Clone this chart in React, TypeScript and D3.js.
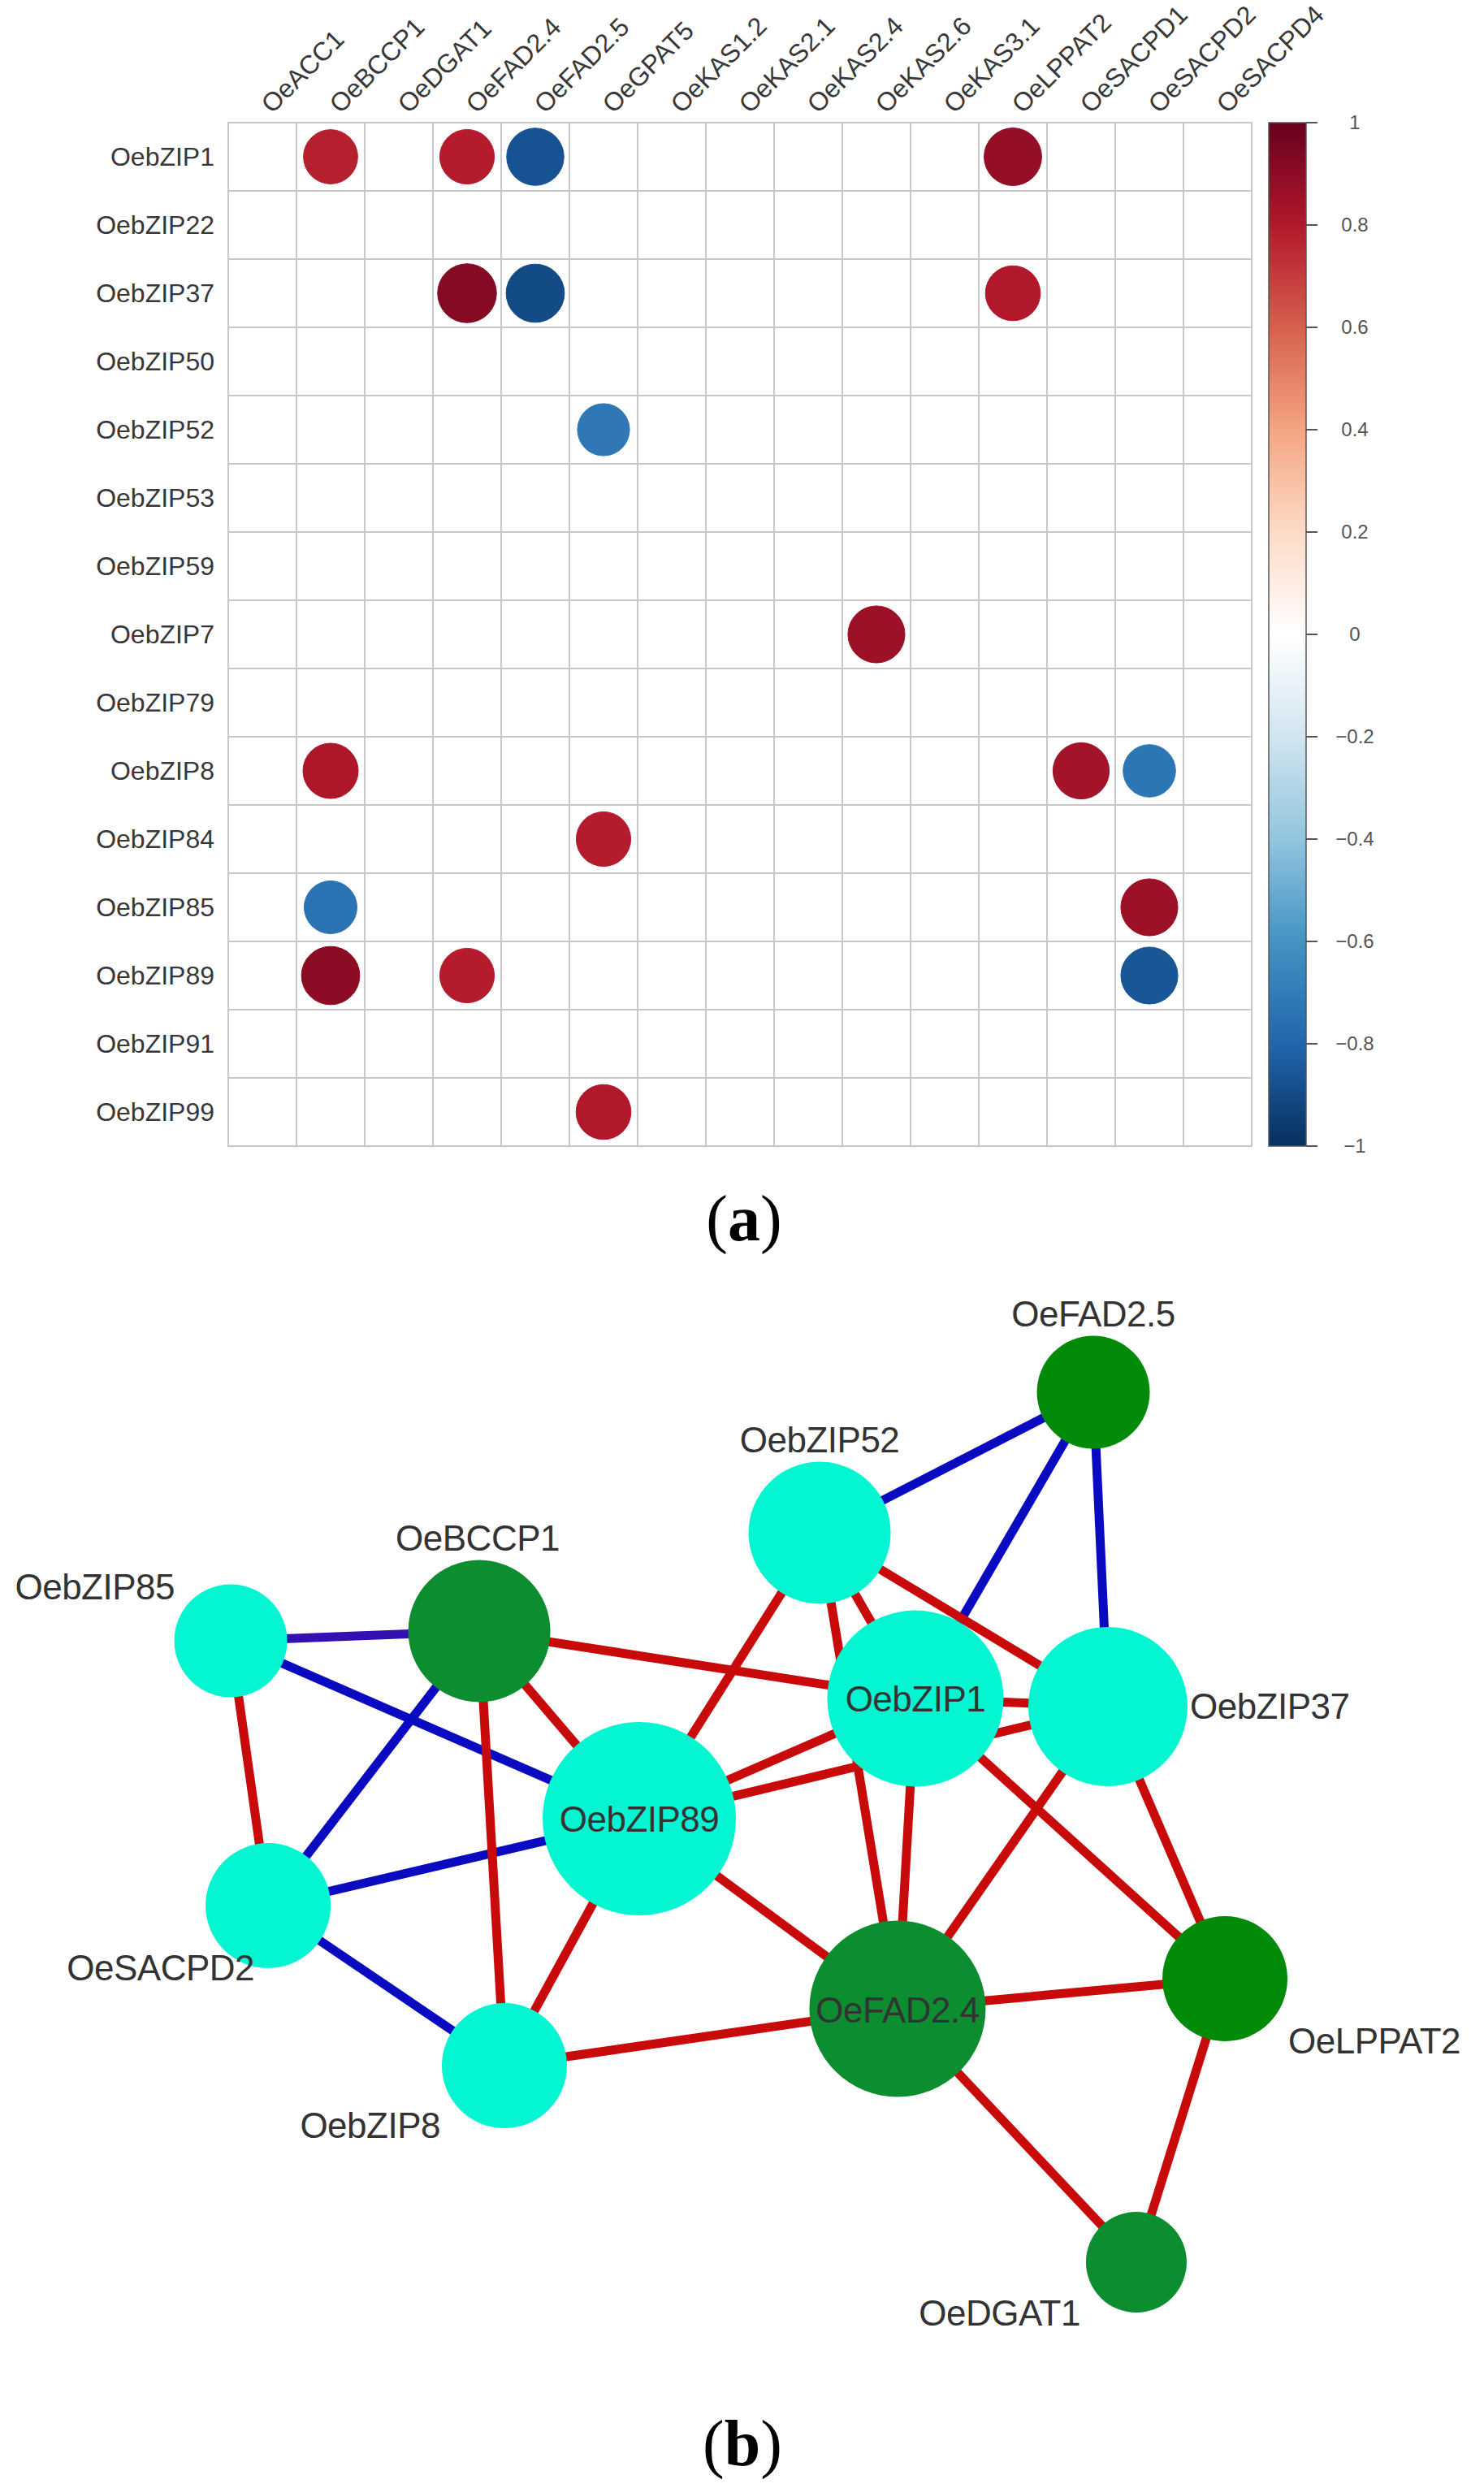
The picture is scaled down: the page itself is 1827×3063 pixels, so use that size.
import React from "react";
import * as d3 from "d3";

// ---------- Panel (a): correlation matrix ----------
const genes = [
  "OeACC1", "OeBCCP1", "OeDGAT1", "OeFAD2.4", "OeFAD2.5", "OeGPAT5", "OeKAS1.2",
  "OeKAS2.1", "OeKAS2.4", "OeKAS2.6", "OeKAS3.1", "OeLPPAT2", "OeSACPD1", "OeSACPD2", "OeSACPD4",
];
const bzips = [
  "OebZIP1", "OebZIP22", "OebZIP37", "OebZIP50", "OebZIP52", "OebZIP53", "OebZIP59",
  "OebZIP7", "OebZIP79", "OebZIP8", "OebZIP84", "OebZIP85", "OebZIP89", "OebZIP91", "OebZIP99",
];
// significant correlations [bZIP, gene, r]
const correlations: [string, string, number][] = [
  ["OebZIP1", "OeBCCP1", 0.78],
  ["OebZIP1", "OeFAD2.4", 0.79],
  ["OebZIP1", "OeFAD2.5", -0.87],
  ["OebZIP1", "OeLPPAT2", 0.88],
  ["OebZIP37", "OeFAD2.4", 0.92],
  ["OebZIP37", "OeFAD2.5", -0.9],
  ["OebZIP37", "OeLPPAT2", 0.8],
  ["OebZIP52", "OeGPAT5", -0.72],
  ["OebZIP7", "OeKAS2.6", 0.86],
  ["OebZIP8", "OeBCCP1", 0.81],
  ["OebZIP8", "OeSACPD1", 0.84],
  ["OebZIP8", "OeSACPD2", -0.73],
  ["OebZIP84", "OeGPAT5", 0.79],
  ["OebZIP85", "OeBCCP1", -0.74],
  ["OebZIP85", "OeSACPD2", 0.86],
  ["OebZIP89", "OeBCCP1", 0.9],
  ["OebZIP89", "OeFAD2.4", 0.79],
  ["OebZIP89", "OeSACPD2", -0.86],
  ["OebZIP99", "OeGPAT5", 0.8],
];
const colorbarTicks = [1, 0.8, 0.6, 0.4, 0.2, 0, -0.2, -0.4, -0.6, -0.8, -1];
const paletteDomain = [-1, -0.8, -0.6, -0.4, -0.2, 0, 0.2, 0.4, 0.6, 0.8, 1];
const paletteColors = [
  "#053061", "#2166AC", "#4393C3", "#92C5DE", "#D1E5F0", "#FFFFFF",
  "#FDDBC7", "#F4A582", "#D6604D", "#B2182B", "#67001F",
];

// ---------- Panel (b): network ----------
// layout coordinates (0-100 units)
const netNodes: { id: string; kind: string; lx: number; ly: number }[] = [
  { id: "OeFAD2.5", kind: "geneLight", lx: 81.86, ly: 1.27 },
  { id: "OebZIP52", kind: "tf", lx: 57.79, ly: 17.0 },
  { id: "OeBCCP1", kind: "gene", lx: 27.86, ly: 28.0 },
  { id: "OebZIP85", kind: "tf", lx: 6.0, ly: 29.09 },
  { id: "OebZIP1", kind: "tf", lx: 66.21, ly: 35.55 },
  { id: "OebZIP37", kind: "tf", lx: 83.14, ly: 36.45 },
  { id: "OebZIP89", kind: "tf", lx: 41.93, ly: 49.0 },
  { id: "OeSACPD2", kind: "tf", lx: 9.29, ly: 58.73 },
  { id: "OebZIP8", kind: "tf", lx: 30.07, ly: 76.64 },
  { id: "OeFAD2.4", kind: "gene", lx: 64.64, ly: 70.27 },
  { id: "OeLPPAT2", kind: "geneLight", lx: 93.43, ly: 66.91 },
  { id: "OeDGAT1", kind: "gene", lx: 85.64, ly: 98.64 },
];
// [source, target, sign]
const netEdges: [string, string, number][] = [
  ["OeFAD2.5", "OebZIP52", -1],
  ["OeFAD2.5", "OebZIP1", -1],
  ["OeFAD2.5", "OebZIP37", -1],
  ["OebZIP85", "OeBCCP1", -1],
  ["OebZIP85", "OebZIP89", -1],
  ["OeBCCP1", "OeSACPD2", -1],
  ["OeSACPD2", "OebZIP89", -1],
  ["OeSACPD2", "OebZIP8", -1],
  ["OebZIP85", "OeSACPD2", 1],
  ["OeBCCP1", "OebZIP89", 1],
  ["OeBCCP1", "OebZIP8", 1],
  ["OeBCCP1", "OebZIP1", 1],
  ["OebZIP52", "OebZIP89", 1],
  ["OebZIP52", "OebZIP1", 1],
  ["OebZIP52", "OeFAD2.4", 1],
  ["OebZIP52", "OebZIP37", 1],
  ["OebZIP89", "OebZIP1", 1],
  ["OebZIP89", "OebZIP37", 1],
  ["OebZIP89", "OeFAD2.4", 1],
  ["OebZIP89", "OebZIP8", 1],
  ["OebZIP1", "OebZIP37", 1],
  ["OebZIP1", "OeFAD2.4", 1],
  ["OebZIP1", "OeLPPAT2", 1],
  ["OebZIP37", "OeFAD2.4", 1],
  ["OebZIP37", "OeLPPAT2", 1],
  ["OeFAD2.4", "OeLPPAT2", 1],
  ["OeFAD2.4", "OeDGAT1", 1],
  ["OeFAD2.4", "OebZIP8", 1],
  ["OeLPPAT2", "OeDGAT1", 1],
];

// ---------- styles ----------
const FONT = "'Liberation Sans', Arial, Helvetica, sans-serif";
const SERIF = "'Liberation Serif', 'Times New Roman', serif";
const nodeFill: Record<string, string> = {
  tf: "#03F5D2",
  gene: "#0C8E30",
  geneLight: "#018B08",
};
const edgeColor = (sign: number, a: string, b: string) =>
  sign > 0 ? "#C80A0A" : a === "OebZIP85" && b === "OeBCCP1" ? "#3310B0" : "#0A0AC0";
const labelPlace: Record<string, [string, number, number]> = {
  "OeFAD2.5": ["middle", 0, -81],
  OebZIP52: ["middle", 0, -99],
  OeBCCP1: ["middle", -2, -99],
  OebZIP85: ["end", -69, -51],
  OebZIP1: ["middle", 0, 16],
  OebZIP37: ["start", 101, 15],
  OebZIP89: ["middle", 0, 16],
  OeSACPD2: ["end", -17, 92],
  OebZIP8: ["end", -79, 89],
  "OeFAD2.4": ["middle", 0, 17],
  OeLPPAT2: ["start", 78, 92],
  OeDGAT1: ["end", -69, 78],
};

export default function App() {
  const W = 1827;
  const H = 3063;

  // matrix scales
  const x = d3.scaleBand<string>().domain(genes).range([281, 1541]);
  const y = d3.scaleBand<string>().domain(bzips).range([151, 1411]);
  const cell = x.bandwidth();
  const rScale = d3.scaleSqrt().domain([0, 1]).range([0, 0.45 * cell]);
  const color = d3
    .scaleLinear<string>()
    .domain(paletteDomain)
    .range(paletteColors)
    .interpolate(d3.interpolateRgb);

  // colorbar
  const cbX = 1562;
  const cbW = 46;
  const cbY = d3.scaleLinear().domain([-1, 1]).range([1411, 151]);
  const fmt = d3.format("");
  const gradStops = paletteDomain
    .map((v, i) => ({ offset: (1 - v) / 2, c: paletteColors[i] }))
    .sort((a, b) => a.offset - b.offset);

  // network scales
  const nx = d3.scaleLinear().domain([0, 100]).range([200, 1600]);
  const ny = d3.scaleLinear().domain([0, 100]).range([1700, 2800]);
  const degree = new Map<string, number>();
  netEdges.forEach(([a, b]) => {
    degree.set(a, (degree.get(a) || 0) + 1);
    degree.set(b, (degree.get(b) || 0) + 1);
  });
  const nodeR = d3.scaleLinear().domain([2, 4, 8]).range([62, 77, 119]);
  const pos = new Map(netNodes.map((n) => [n.id, { x: nx(n.lx), y: ny(n.ly) }]));

  return (
    <svg
      width={W}
      height={H}
      style={{ position: "absolute", left: 0, top: 0, background: "#fff" }}
      fontFamily={FONT}
    >
      <defs>
        <linearGradient id="cbGrad" x1="0" y1="0" x2="0" y2="1">
          {gradStops.map((s, i) => (
            <stop key={i} offset={s.offset} stopColor={s.c} />
          ))}
        </linearGradient>
      </defs>
      <rect x={0} y={0} width={W} height={H} fill="#fff" />

      {/* grid */}
      <g>
        {bzips.map((r) =>
          genes.map((c) => (
            <rect
              key={r + c}
              x={x(c)}
              y={y(r)}
              width={cell}
              height={cell}
              fill="#fff"
              stroke="#c8c8c8"
              strokeWidth={2}
            />
          ))
        )}
      </g>
      {/* circles */}
      <g>
        {correlations.map(([r, c, v]) => (
          <circle
            key={r + c}
            cx={(x(c) as number) + cell / 2}
            cy={(y(r) as number) + cell / 2}
            r={rScale(Math.abs(v))}
            fill={color(v)}
            stroke={color(v)}
            strokeWidth={1}
          />
        ))}
      </g>
      {/* row labels */}
      <g fontSize={32} fill="#383838" textAnchor="end">
        {bzips.map((r) => (
          <text key={r} x={264} y={(y(r) as number) + cell / 2 + 11}>
            {r}
          </text>
        ))}
      </g>
      {/* column labels */}
      <g fontSize={32} fill="#383838">
        {genes.map((c) => {
          const cx = (x(c) as number) + cell / 2 + 12;
          const cy = 151 - 10;
          return (
            <text key={c} x={cx} y={cy} transform={`rotate(-45 ${cx} ${cy})`}>
              {c}
            </text>
          );
        })}
      </g>
      {/* colorbar */}
      <rect x={cbX} y={151} width={cbW} height={1260} fill="url(#cbGrad)" stroke="#555" strokeWidth={1.5} />
      <g>
        {colorbarTicks.map((t) => (
          <g key={t}>
            <line x1={cbX + cbW} x2={cbX + cbW + 14} y1={cbY(t)} y2={cbY(t)} stroke="#555" strokeWidth={2} />
            <text x={1668} y={cbY(t) + 8} fontSize={24} fill="#555" textAnchor="middle">
              {fmt(t)}
            </text>
          </g>
        ))}
      </g>

      {/* (a) */}
      <text x={916} y={1527} fontFamily={SERIF} fontSize={80} textAnchor="middle" fill="#000">
        (<tspan fontWeight="bold">a</tspan>)
      </text>

      {/* network edges */}
      <g>
        {netEdges.map(([a, b, s]) => {
          const p = pos.get(a)!;
          const q = pos.get(b)!;
          return (
            <line
              key={a + b}
              x1={p.x}
              y1={p.y}
              x2={q.x}
              y2={q.y}
              stroke={edgeColor(s, a, b)}
              strokeWidth={11}
            />
          );
        })}
      </g>
      {/* network nodes */}
      <g>
        {netNodes.map((n) => (
          <circle
            key={n.id}
            cx={pos.get(n.id)!.x}
            cy={pos.get(n.id)!.y}
            r={nodeR(degree.get(n.id) || 2)}
            fill={nodeFill[n.kind]}
          />
        ))}
      </g>
      {/* network labels */}
      <g fontSize={44} fill="#333">
        {netNodes.map((n) => {
          const [anchor, dx, dy] = labelPlace[n.id];
          const p = pos.get(n.id)!;
          return (
            <text key={n.id} x={p.x + dx} y={p.y + dy} textAnchor={anchor as any} letterSpacing={-0.5}>
              {n.id}
            </text>
          );
        })}
      </g>

      {/* (b) */}
      <text x={914} y={3035} fontFamily={SERIF} fontSize={80} textAnchor="middle" fill="#000">
        (<tspan fontWeight="bold">b</tspan>)
      </text>
    </svg>
  );
}
